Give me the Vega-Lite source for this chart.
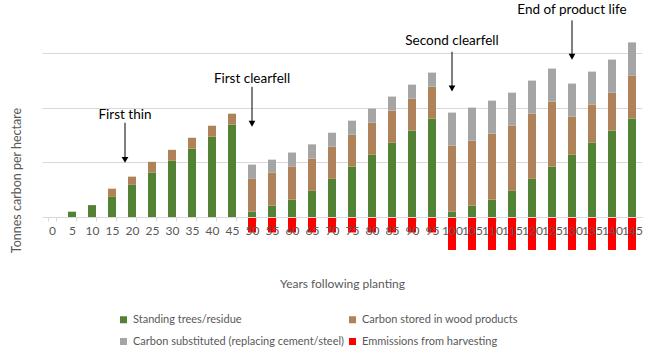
{
  "$schema": "https://vega.github.io/schema/vega-lite/v6.json",
  "width": 600,
  "height": 219,
  "autosize": {"type": "none"},
  "padding": {"left": 42, "top": 31, "right": 8, "bottom": 112},
  "background": "white",
  "config": {"font": "Lato", "view": {"stroke": null}},
  "datasets": {
    "carbon": [
      {"year": 0, "component": "Standing trees/residue", "seq": 1, "value": 0},
      {"year": 5, "component": "Standing trees/residue", "seq": 1, "value": 5},
      {"year": 10, "component": "Standing trees/residue", "seq": 1, "value": 11},
      {"year": 15, "component": "Standing trees/residue", "seq": 1, "value": 18.5},
      {"year": 15, "component": "Carbon stored in wood products", "seq": 2, "value": 7.5},
      {"year": 20, "component": "Standing trees/residue", "seq": 1, "value": 29.5},
      {"year": 20, "component": "Carbon stored in wood products", "seq": 2, "value": 7.5},
      {"year": 25, "component": "Standing trees/residue", "seq": 1, "value": 40.5},
      {"year": 25, "component": "Carbon stored in wood products", "seq": 2, "value": 10},
      {"year": 30, "component": "Standing trees/residue", "seq": 1, "value": 51.5},
      {"year": 30, "component": "Carbon stored in wood products", "seq": 2, "value": 10},
      {"year": 35, "component": "Standing trees/residue", "seq": 1, "value": 62.5},
      {"year": 35, "component": "Carbon stored in wood products", "seq": 2, "value": 10},
      {"year": 40, "component": "Standing trees/residue", "seq": 1, "value": 73.5},
      {"year": 40, "component": "Carbon stored in wood products", "seq": 2, "value": 10},
      {"year": 45, "component": "Standing trees/residue", "seq": 1, "value": 84.5},
      {"year": 45, "component": "Carbon stored in wood products", "seq": 2, "value": 10},
      {"year": 50, "component": "Standing trees/residue", "seq": 1, "value": 5},
      {"year": 50, "component": "Carbon stored in wood products", "seq": 2, "value": 30},
      {"year": 50, "component": "Carbon substituted (replacing cement/steel)", "seq": 3, "value": 13},
      {"year": 50, "component": "Emmissions from harvesting", "seq": 4, "value": -14},
      {"year": 55, "component": "Standing trees/residue", "seq": 1, "value": 10.5},
      {"year": 55, "component": "Carbon stored in wood products", "seq": 2, "value": 30},
      {"year": 55, "component": "Carbon substituted (replacing cement/steel)", "seq": 3, "value": 12},
      {"year": 55, "component": "Emmissions from harvesting", "seq": 4, "value": -14},
      {"year": 60, "component": "Standing trees/residue", "seq": 1, "value": 16},
      {"year": 60, "component": "Carbon stored in wood products", "seq": 2, "value": 30},
      {"year": 60, "component": "Carbon substituted (replacing cement/steel)", "seq": 3, "value": 13},
      {"year": 60, "component": "Emmissions from harvesting", "seq": 4, "value": -14},
      {"year": 65, "component": "Standing trees/residue", "seq": 1, "value": 24},
      {"year": 65, "component": "Carbon stored in wood products", "seq": 2, "value": 29.5},
      {"year": 65, "component": "Carbon substituted (replacing cement/steel)", "seq": 3, "value": 13},
      {"year": 65, "component": "Emmissions from harvesting", "seq": 4, "value": -14},
      {"year": 70, "component": "Standing trees/residue", "seq": 1, "value": 35},
      {"year": 70, "component": "Carbon stored in wood products", "seq": 2, "value": 29.3},
      {"year": 70, "component": "Carbon substituted (replacing cement/steel)", "seq": 3, "value": 12.8},
      {"year": 70, "component": "Emmissions from harvesting", "seq": 4, "value": -14},
      {"year": 75, "component": "Standing trees/residue", "seq": 1, "value": 46},
      {"year": 75, "component": "Carbon stored in wood products", "seq": 2, "value": 29.3},
      {"year": 75, "component": "Carbon substituted (replacing cement/steel)", "seq": 3, "value": 12.8},
      {"year": 75, "component": "Emmissions from harvesting", "seq": 4, "value": -14},
      {"year": 80, "component": "Standing trees/residue", "seq": 1, "value": 57},
      {"year": 80, "component": "Carbon stored in wood products", "seq": 2, "value": 29.3},
      {"year": 80, "component": "Carbon substituted (replacing cement/steel)", "seq": 3, "value": 12.8},
      {"year": 80, "component": "Emmissions from harvesting", "seq": 4, "value": -14},
      {"year": 85, "component": "Standing trees/residue", "seq": 1, "value": 68},
      {"year": 85, "component": "Carbon stored in wood products", "seq": 2, "value": 29.3},
      {"year": 85, "component": "Carbon substituted (replacing cement/steel)", "seq": 3, "value": 12.8},
      {"year": 85, "component": "Emmissions from harvesting", "seq": 4, "value": -14},
      {"year": 90, "component": "Standing trees/residue", "seq": 1, "value": 79},
      {"year": 90, "component": "Carbon stored in wood products", "seq": 2, "value": 29.2},
      {"year": 90, "component": "Carbon substituted (replacing cement/steel)", "seq": 3, "value": 12.8},
      {"year": 90, "component": "Emmissions from harvesting", "seq": 4, "value": -14},
      {"year": 95, "component": "Standing trees/residue", "seq": 1, "value": 90},
      {"year": 95, "component": "Carbon stored in wood products", "seq": 2, "value": 29.2},
      {"year": 95, "component": "Carbon substituted (replacing cement/steel)", "seq": 3, "value": 12.8},
      {"year": 95, "component": "Emmissions from harvesting", "seq": 4, "value": -14},
      {"year": 100, "component": "Standing trees/residue", "seq": 1, "value": 5},
      {"year": 100, "component": "Carbon stored in wood products", "seq": 2, "value": 60.3},
      {"year": 100, "component": "Carbon substituted (replacing cement/steel)", "seq": 3, "value": 30.2},
      {"year": 100, "component": "Emmissions from harvesting", "seq": 4, "value": -30},
      {"year": 105, "component": "Standing trees/residue", "seq": 1, "value": 10.5},
      {"year": 105, "component": "Carbon stored in wood products", "seq": 2, "value": 59.4},
      {"year": 105, "component": "Carbon substituted (replacing cement/steel)", "seq": 3, "value": 30.2},
      {"year": 105, "component": "Emmissions from harvesting", "seq": 4, "value": -30},
      {"year": 110, "component": "Standing trees/residue", "seq": 1, "value": 16},
      {"year": 110, "component": "Carbon stored in wood products", "seq": 2, "value": 60.2},
      {"year": 110, "component": "Carbon substituted (replacing cement/steel)", "seq": 3, "value": 30.2},
      {"year": 110, "component": "Emmissions from harvesting", "seq": 4, "value": -30},
      {"year": 115, "component": "Standing trees/residue", "seq": 1, "value": 24},
      {"year": 115, "component": "Carbon stored in wood products", "seq": 2, "value": 59.5},
      {"year": 115, "component": "Carbon substituted (replacing cement/steel)", "seq": 3, "value": 30.2},
      {"year": 115, "component": "Emmissions from harvesting", "seq": 4, "value": -30},
      {"year": 120, "component": "Standing trees/residue", "seq": 1, "value": 35},
      {"year": 120, "component": "Carbon stored in wood products", "seq": 2, "value": 59.5},
      {"year": 120, "component": "Carbon substituted (replacing cement/steel)", "seq": 3, "value": 30.2},
      {"year": 120, "component": "Emmissions from harvesting", "seq": 4, "value": -30},
      {"year": 125, "component": "Standing trees/residue", "seq": 1, "value": 46},
      {"year": 125, "component": "Carbon stored in wood products", "seq": 2, "value": 59.5},
      {"year": 125, "component": "Carbon substituted (replacing cement/steel)", "seq": 3, "value": 30.2},
      {"year": 125, "component": "Emmissions from harvesting", "seq": 4, "value": -30},
      {"year": 130, "component": "Standing trees/residue", "seq": 1, "value": 57},
      {"year": 130, "component": "Carbon stored in wood products", "seq": 2, "value": 34.8},
      {"year": 130, "component": "Carbon substituted (replacing cement/steel)", "seq": 3, "value": 30.2},
      {"year": 130, "component": "Emmissions from harvesting", "seq": 4, "value": -30},
      {"year": 135, "component": "Standing trees/residue", "seq": 1, "value": 68},
      {"year": 135, "component": "Carbon stored in wood products", "seq": 2, "value": 34.7},
      {"year": 135, "component": "Carbon substituted (replacing cement/steel)", "seq": 3, "value": 30.2},
      {"year": 135, "component": "Emmissions from harvesting", "seq": 4, "value": -30},
      {"year": 140, "component": "Standing trees/residue", "seq": 1, "value": 79},
      {"year": 140, "component": "Carbon stored in wood products", "seq": 2, "value": 34.7},
      {"year": 140, "component": "Carbon substituted (replacing cement/steel)", "seq": 3, "value": 30.2},
      {"year": 140, "component": "Emmissions from harvesting", "seq": 4, "value": -30},
      {"year": 145, "component": "Standing trees/residue", "seq": 1, "value": 90},
      {"year": 145, "component": "Carbon stored in wood products", "seq": 2, "value": 39.4},
      {"year": 145, "component": "Carbon substituted (replacing cement/steel)", "seq": 3, "value": 30.2},
      {"year": 145, "component": "Emmissions from harvesting", "seq": 4, "value": -30}
    ],
    "notes": [
      {"year": 50, "label": "First clearfell", "textY": 126.4, "top": 119, "tip": 85.3},
      {"year": 100, "label": "Second clearfell", "textY": 160.5, "top": 151, "tip": 117.5},
      {"year": 130, "label": "End of product life", "textY": 189.5, "top": 179.7, "tip": 146.5}
    ],
    "thin": [
      {"year": 20, "label": "First thin", "textY": 93, "top": 86.2, "tip": 52.3}
    ]
  },
  "layer": [
    {
      "data": {"name": "carbon"},
      "mark": {"type": "bar", "size": 8},
      "encoding": {
        "x": {
          "field": "year",
          "type": "ordinal",
          "title": "Years following planting",
          "scale": {"paddingInner": 0.6, "paddingOuter": 0.3},
          "axis": {
            "labelAngle": 0,
            "offset": -33,
            "domainColor": "#d9d9d9",
            "tickColor": "#d9d9d9",
            "tickBand": "extent",
            "tickSize": 4,
            "labelPadding": 4,
            "labelColor": "#595959",
            "labelFontSize": 12,
            "titleColor": "#595959",
            "titleFontSize": 12,
            "titleFontWeight": "normal",
            "titlePadding": 42,
            "zindex": 1
          }
        },
        "y": {
          "field": "value",
          "type": "quantitative",
          "stack": "zero",
          "title": "Tonnes carbon per hectare",
          "scale": {"domain": [-30, 170], "nice": false, "zero": false},
          "axis": {
            "values": [0, 50, 100, 150],
            "labels": false,
            "ticks": false,
            "domain": false,
            "gridColor": "#d9d9d9",
            "titleColor": "#595959",
            "titleFontSize": 12.5,
            "titleFontWeight": "normal",
            "titleAlign": "center",
            "titleX": -19,
            "titleY": 149
          }
        },
        "color": {
          "field": "component",
          "type": "nominal",
          "scale": {
            "domain": ["Standing trees/residue", "Carbon stored in wood products", "Carbon substituted (replacing cement/steel)", "Emmissions from harvesting"],
            "range": ["#548235", "#b0825a", "#a5a5a5", "#ff0000"]
          },
          "legend": {
            "orient": "none",
            "direction": "horizontal",
            "legendX": 76,
            "legendY": 283,
            "columns": 2,
            "title": null,
            "symbolType": "square",
            "symbolSize": 49,
            "symbolStrokeWidth": 0,
            "labelFontSize": 11,
            "labelLimit": 400,
            "labelColor": "#595959",
            "columnPadding": 3,
            "rowPadding": 10
          }
        },
        "order": {"field": "seq", "type": "quantitative"}
      }
    },
    {
      "data": {"name": "notes"},
      "mark": {"type": "rule", "color": "black", "strokeWidth": 1},
      "encoding": {
        "x": {"field": "year", "type": "ordinal", "title": "Years following planting"},
        "y": {"field": "top", "type": "quantitative", "title": "Tonnes carbon per hectare"},
        "y2": {"field": "tip"}
      }
    },
    {
      "data": {"name": "notes"},
      "mark": {"type": "point", "shape": "triangle-down", "filled": true, "color": "black", "size": 45, "opacity": 1},
      "encoding": {
        "x": {"field": "year", "type": "ordinal", "title": "Years following planting"},
        "y": {"field": "tip", "type": "quantitative", "title": "Tonnes carbon per hectare"}
      }
    },
    {
      "data": {"name": "notes"},
      "mark": {"type": "text", "fontSize": 13.5, "color": "black", "baseline": "middle"},
      "encoding": {
        "x": {"field": "year", "type": "ordinal", "title": "Years following planting"},
        "y": {"field": "textY", "type": "quantitative", "title": "Tonnes carbon per hectare"},
        "text": {"field": "label"}
      }
    },
    {
      "data": {"name": "thin"},
      "mark": {"type": "rule", "color": "black", "strokeWidth": 1, "xOffset": -7},
      "encoding": {
        "x": {"field": "year", "type": "ordinal", "title": "Years following planting"},
        "y": {"field": "top", "type": "quantitative", "title": "Tonnes carbon per hectare"},
        "y2": {"field": "tip"}
      }
    },
    {
      "data": {"name": "thin"},
      "mark": {"type": "point", "shape": "triangle-down", "filled": true, "color": "black", "size": 45, "opacity": 1, "xOffset": -7},
      "encoding": {
        "x": {"field": "year", "type": "ordinal", "title": "Years following planting"},
        "y": {"field": "tip", "type": "quantitative", "title": "Tonnes carbon per hectare"}
      }
    },
    {
      "data": {"name": "thin"},
      "mark": {"type": "text", "fontSize": 13.5, "color": "black", "baseline": "middle", "xOffset": -7},
      "encoding": {
        "x": {"field": "year", "type": "ordinal", "title": "Years following planting"},
        "y": {"field": "textY", "type": "quantitative", "title": "Tonnes carbon per hectare"},
        "text": {"field": "label"}
      }
    }
  ]
}
